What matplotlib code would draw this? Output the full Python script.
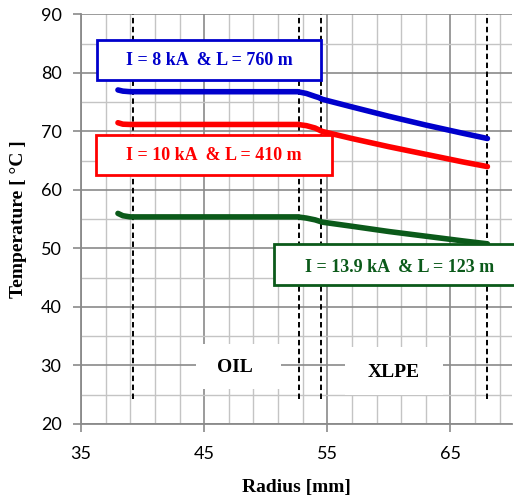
import numpy as np
import matplotlib
matplotlib.use('Agg')
import matplotlib.pyplot as plt
from matplotlib.patches import Rectangle

# radius (mm) / temperature (degC)
radiusBlue = [38.0, 38.4, 39.0, 45.0, 52.6, 53.3, 54.0, 54.3, 54.6, 57.0, 60.0, 63.0, 66.0, 68.0]
tempBlue = [77.1, 76.9, 76.8, 76.8, 76.8, 76.5, 76.0, 75.8, 75.5, 74.2, 72.6, 71.1, 69.7, 68.8]

radiusRed = [38.0, 38.4, 39.0, 45.0, 52.6, 53.3, 54.0, 54.3, 54.6, 57.0, 60.0, 63.0, 66.0, 68.0]
tempRed = [71.5, 71.25, 71.2, 71.2, 71.2, 71.0, 70.6, 70.3, 70.0, 68.8, 67.4, 66.1, 64.8, 64.0]

radiusGreen = [38.0, 38.4, 39.0, 45.0, 52.6, 53.3, 54.0, 54.3, 54.6, 57.0, 60.0, 63.0, 66.0, 68.0]
tempGreen = [56.0, 55.6, 55.4, 55.4, 55.4, 55.2, 54.9, 54.7, 54.5, 53.8, 52.9, 52.1, 51.3, 50.8]

boundaries = [39.2, 52.7, 54.5, 68.0]

labelBlue = "I = 8 kA  & L = 760 m"
labelRed = "I = 10 kA  & L = 410 m"
labelGreen = "I = 13.9 kA  & L = 123 m"

blue = '#0000CC'
red = '#FF0000'
green = '#0B5A1A'
serif = 'Liberation Serif'

plt.rcParams['font.family'] = 'Lato'

fig = plt.figure(figsize=(5.14, 4.98), dpi=100)
ax = fig.add_axes([0.1576, 0.1486, 0.8386, 0.8223])

ax.set_xlim(35, 70)
ax.set_ylim(20, 90)
ax.set_xticks([35, 45, 55, 65])
ax.set_xticks(np.arange(35, 71, 2), minor=True)
ax.set_yticks(np.arange(20, 91, 10))
ax.set_yticks(np.arange(20, 91, 5), minor=True)
ax.grid(which='minor', color='#c4c4c4', linewidth=1.0, zorder=0)
ax.grid(which='major', color='#8a8a8a', linewidth=1.2, zorder=0)
ax.set_axisbelow(True)
ax.tick_params(which='minor', length=0)
ax.tick_params(which='major', length=6, width=1.2, color='#8a8a8a', labelsize=13, colors='#8a8a8a',
               labelcolor='black')
ax.tick_params(axis='y', pad=8)
ax.tick_params(axis='x', pad=10)
for s in ['left', 'bottom']:
    ax.spines[s].set_color('#8a8a8a')
    ax.spines[s].set_linewidth(1.3)
ax.spines['top'].set_visible(False)
ax.spines['right'].set_visible(False)

for b in boundaries:
    ax.plot([b, b], [24.3, 90], color='black', linestyle=(0, (2.8, 1.8)), linewidth=1.4, zorder=2, clip_on=False)

ax.plot(radiusBlue, tempBlue, color=blue, linewidth=4, solid_capstyle='round', zorder=3)
ax.plot(radiusRed, tempRed, color=red, linewidth=4, solid_capstyle='round', zorder=3)
ax.plot(radiusGreen, tempGreen, color=green, linewidth=4, solid_capstyle='round', zorder=3)

# label boxes
ax.add_patch(Rectangle((36.3, 78.8), 18.2, 6.8, facecolor='white', edgecolor=blue, linewidth=2, zorder=4))
ax.text(45.4, 82.2, labelBlue, color=blue, fontsize=13, fontweight='bold', family=serif,
        ha='center', va='center', zorder=5)
ax.add_patch(Rectangle((36.2, 62.5), 19.2, 6.9, facecolor='white', edgecolor=red, linewidth=2, zorder=4))
ax.text(45.8, 65.9, labelRed, color=red, fontsize=13, fontweight='bold', family=serif,
        ha='center', va='center', zorder=5)
ax.add_patch(Rectangle((50.7, 43.8), 21.0, 7.0, facecolor='white', edgecolor=green, linewidth=2, zorder=4,
                       clip_on=False))
ax.text(60.9, 46.8, labelGreen, color=green, fontsize=13, fontweight='bold', family=serif,
        ha='center', va='center', zorder=5)

# region labels
ax.add_patch(Rectangle((44.3, 25.9), 6.9, 7.7, facecolor='white', edgecolor='none', zorder=1.5))
ax.text(47.5, 29.6, "OIL", fontsize=14, fontweight='bold', family=serif, ha='center', va='center', zorder=5)
ax.add_patch(Rectangle((56.4, 24.9), 8.0, 8.3, facecolor='white', edgecolor='none', zorder=1.5))
ax.text(60.4, 28.8, "XLPE", fontsize=14, fontweight='bold', family=serif, ha='center', va='center', zorder=5)

ax.set_xlabel("Radius [mm]", fontsize=14, fontweight='bold', family=serif, labelpad=12)
ax.set_ylabel("Temperature [ \u00b0C ]", fontsize=14, fontweight='bold', family=serif, labelpad=10)

fig.savefig('out.png', dpi=100)
